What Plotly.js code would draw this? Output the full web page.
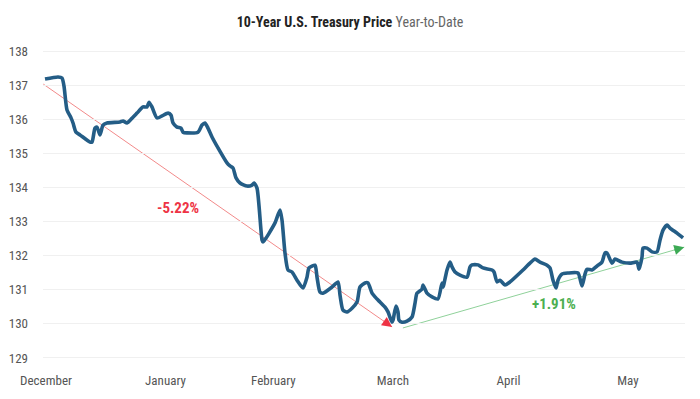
<!DOCTYPE html>
<html>
<head>
<meta charset="utf-8">
<script src="https://cdn.plot.ly/plotly-3.0.1.min.js"></script>
<style>html,body{margin:0;padding:0;background:#fff;}#chart{width:700px;height:399px;}</style>
</head>
<body>
<div id="chart"></div>
<script>
// Day offsets counted from 1 December 2020
const days = [-0.26,3.11,4.15,4.67,5.45,6.49,7.01,7.78,8.82,11.42,11.94,12.71,13.23,14.01,14.79,15.83,19.20,19.98,21.02,22.57,23.61,25.17,26.21,26.73,27.50,28.80,31.66,32.43,32.95,33.99,35.03,35.55,36.59,39.44,40.48,41.26,42.03,43.07,44.63,46.96,47.74,48.52,49.30,50.34,52.15,53.45,53.97,54.75,56.05,56.31,59.42,60.72,61.24,62.01,62.79,63.83,65.13,66.68,67.72,68.24,69.80,70.32,71.09,71.87,74.21,75.77,76.29,77.06,78.10,79.40,80.70,81.47,82.77,83.55,84.59,85.37,86.66,87.96,88.74,89.78,90.04,90.81,91.33,91.59,92.37,93.67,94.97,95.75,96.26,97.56,97.82,98.86,100.16,101.71,102.75,103.01,104.05,104.83,105.35,106.13,107.42,109.24,110.02,110.54,112.10,113.39,115.73,116.25,117.02,117.80,119.10,120.40,123.77,125.58,126.88,128.18,130.00,130.77,131.55,132.33,132.85,133.89,135.44,138.04,139.07,139.85,140.37,141.67,143.23,144.26,145.04,145.56,146.86,147.64,149.45,151.53,153.35,153.87,154.65,154.91,155.95,157.25,158.54,159.32,160.10,161.14,161.92,163.74,165.29];
const price = [137.18,137.24,137.21,136.97,136.27,136.04,135.89,135.62,135.54,135.33,135.33,135.74,135.77,135.54,135.83,135.89,135.92,135.95,135.89,136.06,136.18,136.36,136.36,136.50,136.36,136.04,136.18,136.12,135.89,135.77,135.74,135.62,135.60,135.62,135.83,135.89,135.74,135.48,135.16,134.72,134.63,134.57,134.28,134.13,134.04,134.07,134.13,133.98,132.46,132.40,132.96,133.34,133.04,132.08,131.58,131.52,131.28,131.05,131.37,131.64,131.72,131.37,130.93,130.90,131.08,131.23,130.84,130.40,130.35,130.46,130.64,131.08,131.20,131.20,130.90,130.79,130.64,130.49,130.35,130.05,130.11,130.52,130.35,130.11,130.05,130.08,130.20,130.61,130.90,131.02,131.14,130.90,130.79,130.73,131.20,131.08,131.58,131.81,131.67,131.52,131.43,131.37,131.67,131.73,131.73,131.64,131.58,131.52,131.23,131.28,131.14,131.23,131.58,131.78,131.90,131.81,131.72,131.64,131.28,131.05,131.28,131.46,131.49,131.49,131.11,131.46,131.60,131.58,131.72,131.81,132.08,132.08,131.78,131.90,131.81,131.78,131.81,131.60,131.96,132.22,132.22,132.11,132.11,132.46,132.75,132.90,132.81,132.66,132.52];

const monthTicks = [0, 31, 59, 90, 120, 151];
const monthLabels = ['December', 'January', 'February', 'March', 'April', 'May'];

// Trend annotations: [startDay, startPrice, endDay, endPrice]
const downTrend = [-0.7, 137.03, 89.8, 129.91];
const upTrend = [92.6, 129.88, 165.6, 132.25];
const downLabel = {day: 34.25, price: 133.40, text: '-5.22%'};
const upLabel = {day: 131.8, price: 130.58, text: '+1.91%'};

const FONT = 'Liberation Sans Narrow, Roboto Condensed, Roboto, sans-serif';

const trace = {
  x: days, y: price, type: 'scatter', mode: 'lines',
  line: {color: '#245d86', width: 3.6, shape: 'spline', smoothing: 0.6},
  hoverinfo: 'skip'
};

function trendShape(t, col) {
  return {type: 'line', xref: 'x', yref: 'y', x0: t[0], y0: t[1], x1: t[2], y1: t[3],
          line: {color: col, width: 1}, layer: 'below'};
}
function headAnn(t, col, ax, ay) {
  return {x: t[2], y: t[3], xref: 'x', yref: 'y', ax: ax, ay: ay, axref: 'pixel', ayref: 'pixel',
          showarrow: true, arrowhead: 2, arrowsize: 2, arrowwidth: 1, arrowcolor: col, text: ''};
}

const layout = {
  width: 700, height: 399,
  margin: {l: 43, r: 15, t: 50, b: 40},
  paper_bgcolor: '#ffffff', plot_bgcolor: '#ffffff',
  showlegend: false,
  font: {family: FONT, size: 13, color: '#555555'},
  title: {
    text: '<b>10-Year U.S. Treasury Price</b> <span style="color:#666666">Year-to-Date</span>',
    font: {family: FONT, size: 14, color: '#222222'},
    x: 0.5, xref: 'container', xanchor: 'center',
    y: 0.945, yref: 'container', yanchor: 'middle'
  },
  xaxis: {
    range: [-0.78, 165.8], showgrid: false, zeroline: false, showline: false,
    tickmode: 'array', tickvals: monthTicks, ticktext: monthLabels,
    ticks: '', ticklabelstandoff: 12,
    tickfont: {family: FONT, size: 13, color: '#555555'}
  },
  yaxis: {
    range: [128.97, 138.03], dtick: 1, tick0: 129, showgrid: true, gridcolor: '#f0f0f0', gridwidth: 1,
    zeroline: false, showline: false, ticks: '', ticklabelstandoff: 14,
    tickfont: {family: FONT, size: 13, color: '#555555'}
  },
  shapes: [trendShape(downTrend, '#f28a8a'), trendShape(upTrend, '#8fd19a')],
  annotations: [
    headAnn(downTrend, '#ee3344', -9.9, -6.9),
    headAnn(upTrend, '#3daa55', -11.5, 3.3),
    {x: downLabel.day, y: downLabel.price, xref: 'x', yref: 'y', text: '<b>' + downLabel.text + '</b>',
     showarrow: false, font: {family: FONT, size: 15, color: '#ee3344'}},
    {x: upLabel.day, y: upLabel.price, xref: 'x', yref: 'y', text: '<b>' + upLabel.text + '</b>',
     showarrow: false, font: {family: FONT, size: 15, color: '#4caf50'}}
  ]
};

Plotly.newPlot('chart', [trace], layout, {staticPlot: true, displayModeBar: false});
</script>
</body>
</html>
